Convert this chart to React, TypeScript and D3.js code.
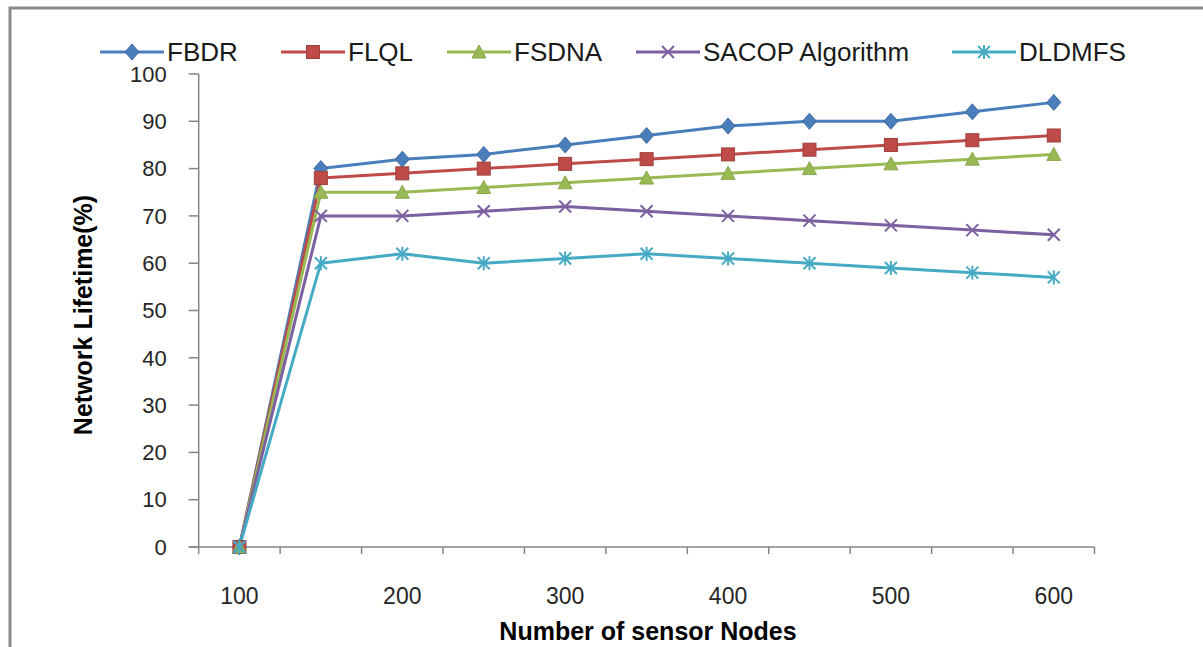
import React from "react";
import * as d3 from "d3";

// Number of sensor nodes (x categories)
const nodeCounts = [100, 150, 200, 250, 300, 350, 400, 450, 500, 550, 600];
// Only every other category carries a label
const labelledCounts = [100, 200, 300, 400, 500, 600];
const yTicks = [0, 10, 20, 30, 40, 50, 60, 70, 80, 90, 100];

// Network lifetime (%) per method
const fbdr = [0, 80, 82, 83, 85, 87, 89, 90, 90, 92, 94];
const flql = [0, 78, 79, 80, 81, 82, 83, 84, 85, 86, 87];
const fsdna = [0, 75, 75, 76, 77, 78, 79, 80, 81, 82, 83];
const sacop = [0, 70, 70, 71, 72, 71, 70, 69, 68, 67, 66];
const dldmfs = [0, 60, 62, 60, 61, 62, 61, 60, 59, 58, 57];

const seriesNames = ["FBDR", "FLQL", "FSDNA", "SACOP Algorithm", "DLDMFS"];
const seriesValues = [fbdr, flql, fsdna, sacop, dldmfs];
const seriesColors = ["#4a7ebb", "#be4b48", "#98b954", "#7d60a0", "#46aac5"];
const seriesMarkers = ["diamond", "square", "triangle", "cross", "asterisk"];

const W = 1203;
const H = 647;
const plot = { left: 198.7, right: 1094.5, top: 74, bottom: 547 };
const FONT = "'Liberation Sans', Arial, sans-serif";
const AXIS = "#868686";

function Marker({ kind, x, y, color }: { kind: string; x: number; y: number; color: string }) {
  const s = 7;
  if (kind === "diamond") {
    return <path d={`M${x},${y - s - 1}L${x + s},${y}L${x},${y + s + 1}L${x - s},${y}Z`} fill={color} stroke={d3.color(color)!.darker(0.4).toString()} strokeWidth={1} />;
  }
  if (kind === "square") {
    return <rect x={x - 6.5} y={y - 6.5} width={13} height={13} fill={color} stroke={d3.color(color)!.darker(0.5).toString()} strokeWidth={1} />;
  }
  if (kind === "triangle") {
    return <path d={`M${x},${y - 7}L${x + 7},${y + 6}L${x - 7},${y + 6}Z`} fill={color} stroke={d3.color(color)!.darker(0.3).toString()} strokeWidth={1} />;
  }
  if (kind === "cross") {
    return (
      <g stroke={color} strokeWidth={2}>
        <line x1={x - 6} y1={y - 6} x2={x + 6} y2={y + 6} />
        <line x1={x - 6} y1={y + 6} x2={x + 6} y2={y - 6} />
      </g>
    );
  }
  return (
    <g stroke={color} strokeWidth={2}>
      <line x1={x - 6} y1={y - 6} x2={x + 6} y2={y + 6} />
      <line x1={x - 6} y1={y + 6} x2={x + 6} y2={y - 6} />
      <line x1={x} y1={y - 7} x2={x} y2={y + 7} />
    </g>
  );
}

// Legend entry left edges (start of each sample line)
const legendX = [100, 281, 447, 636, 952];
const legendLine = 64;

export default function App() {
  const x = d3.scaleBand<number>().domain(nodeCounts).range([plot.left, plot.right]).padding(0);
  const y = d3.scaleLinear().domain([0, 100]).range([plot.bottom, plot.top]);
  const cx = (v: number) => (x(v) as number) + x.bandwidth() / 2;

  const line = d3
    .line<number>()
    .x((_, i) => cx(nodeCounts[i]))
    .y((d) => y(d));

  const boundaries = nodeCounts.map((n) => x(n) as number).concat([plot.right]);

  return (
    <svg width={W} height={H} style={{ position: "absolute", left: 0, top: 0, background: "#fff" }}>
      <rect x={0} y={0} width={W} height={H} fill="#fff" />
      {/* outer frame */}
      <rect x={10} y={8} width={W + 20} height={H + 20} fill="none" stroke="#8a8a8a" strokeWidth={3} />

      {/* y axis */}
      <line x1={plot.left} y1={plot.top} x2={plot.left} y2={plot.bottom} stroke={AXIS} strokeWidth={1.5} />
      {yTicks.map((t) => (
        <g key={t}>
          <line x1={plot.left - 10} x2={plot.left} y1={y(t)} y2={y(t)} stroke={AXIS} strokeWidth={1.5} />
          <text x={plot.left - 32} y={y(t)} dy="0.35em" textAnchor="end" fontFamily={FONT} fontSize={22} fill="#262626">
            {t}
          </text>
        </g>
      ))}

      {/* x axis */}
      <line x1={plot.left - 10} y1={plot.bottom} x2={plot.right} y2={plot.bottom} stroke={AXIS} strokeWidth={1.5} />
      {boundaries.map((b, i) => (
        <line key={i} x1={b} x2={b} y1={plot.bottom} y2={plot.bottom + 7} stroke={AXIS} strokeWidth={1.5} />
      ))}
      {labelledCounts.map((n) => (
        <text key={n} x={cx(n)} y={596} dy="0.35em" textAnchor="middle" fontFamily={FONT} fontSize={23} fill="#262626">
          {n}
        </text>
      ))}

      {/* axis titles */}
      <text x={648} y={640} textAnchor="middle" fontFamily={FONT} fontSize={25} fontWeight="bold" fill="#000">
        Number of sensor Nodes
      </text>
      <text
        transform={`translate(92,315) rotate(-90)`}
        textAnchor="middle"
        fontFamily={FONT}
        fontSize={25}
        fontWeight="bold"
        fill="#000"
      >
        Network Lifetime(%)
      </text>

      {/* series */}
      {seriesValues.map((vals, si) => (
        <path key={si} d={line(vals) || ""} fill="none" stroke={seriesColors[si]} strokeWidth={3} strokeLinejoin="round" />
      ))}
      {seriesValues.map((vals, si) =>
        vals.map((v, i) => <Marker key={`${si}-${i}`} kind={seriesMarkers[si]} x={cx(nodeCounts[i])} y={y(v)} color={seriesColors[si]} />)
      )}

      {/* legend */}
      {seriesNames.map((name, i) => (
        <g key={name}>
          <line x1={legendX[i]} x2={legendX[i] + legendLine} y1={52} y2={52} stroke={seriesColors[i]} strokeWidth={3} />
          <Marker kind={seriesMarkers[i]} x={legendX[i] + legendLine / 2} y={52} color={seriesColors[i]} />
          <text x={legendX[i] + legendLine + 3} y={52} dy="0.35em" fontFamily={FONT} fontSize={26} fill="#1a1a1a">
            {name}
          </text>
        </g>
      ))}
    </svg>
  );
}
